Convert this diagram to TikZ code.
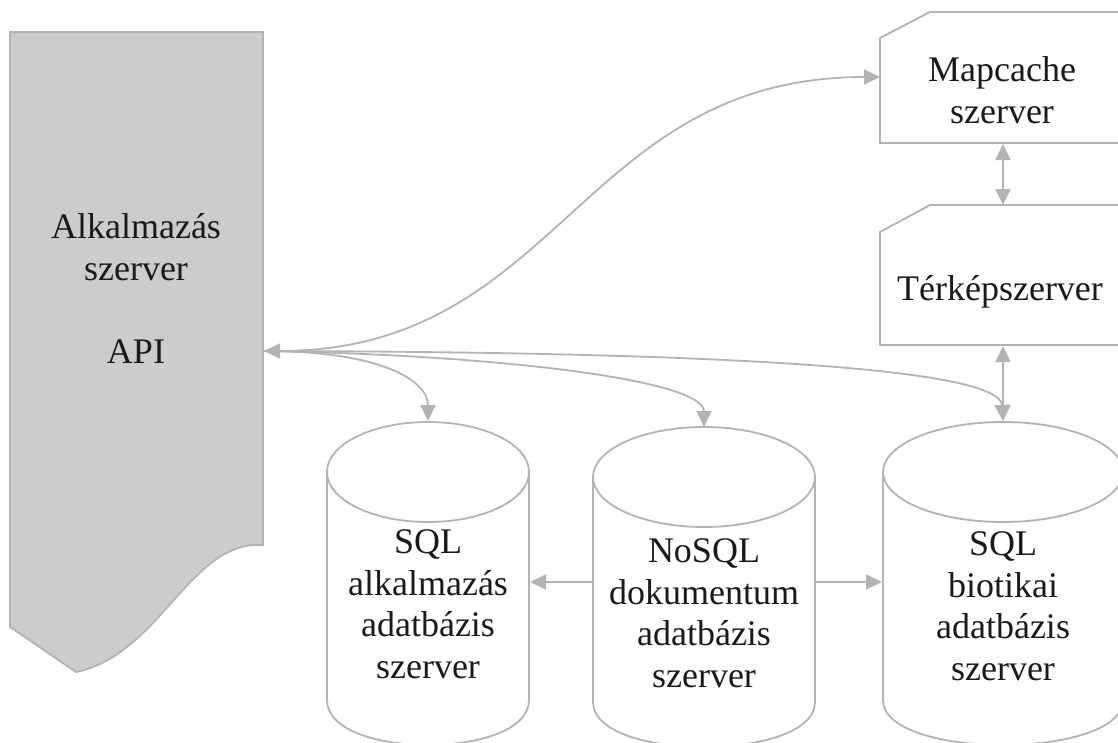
\documentclass[tikz,border=0pt]{standalone}
\usepackage{fontspec}
\setmainfont{Liberation Serif}
\usetikzlibrary{arrows.meta}
\definecolor{linegray}{HTML}{B3B3B3}
\definecolor{fillgray}{HTML}{CCCCCC}
\definecolor{txt}{HTML}{1A1A1A}
\tikzset{
  outline/.style={draw=linegray, line width=1.8pt, line join=miter},
  conn/.style={draw=linegray, line width=1.8pt, -{Triangle[length=16pt,width=15pt]}},
  bothconn/.style={draw=linegray, line width=1.8pt, {Triangle[length=16pt,width=15pt]}-{Triangle[length=16pt,width=15pt]}},
  lbl/.style={font=\fontsize{36}{41.5}\selectfont, text=txt, align=center, anchor=base, inner sep=0pt},
}
\begin{document}
\begin{tikzpicture}[x=1pt,y=-1pt]
\useasboundingbox (0,0) rectangle (1118,742);
\clip (0,0) rectangle (1118,742);
% application server (document shape)
\draw[outline, fill=fillgray] (10,32) -- (263,32) -- (263,545)
  .. controls (190,540) and (160,655) .. (76,672) -- (10,627) -- cycle;
% Mapcache box
\draw[outline] (880,38) -- (930,12) -- (1126,12) -- (1126,143) -- (880,143) -- cycle;
% Terkep box
\draw[outline] (880,232) -- (930,205) -- (1126,205) -- (1126,345) -- (880,345) -- cycle;
% cylinders
\draw[outline] (428,472) ellipse [x radius=101, y radius=50];
\draw[outline] (327,472) -- (327,700) .. controls (327,760) and (529,760) .. (529,700) -- (529,472);
\draw[outline] (704,477) ellipse [x radius=111, y radius=50];
\draw[outline] (593,477) -- (593,702) .. controls (593,762) and (815,762) .. (815,702) -- (815,477);
\draw[outline] (1003,472) ellipse [x radius=120, y radius=50];
\draw[outline] (883,472) -- (883,700) .. controls (883,760) and (1123,760) .. (1123,700) -- (1123,472);
% labels (anchor = baseline of last line)
\node[lbl] (app) at (136,363) {Alkalmazás\\szerver\\[41.5pt]API};
\node[lbl] (map) at (1002,123) {Mapcache\\szerver};
\node[lbl] (ter) at (1000,300) {Térképszerver};
\node[lbl] (c1) at (428,678) {SQL\\alkalmazás\\adatbázis\\szerver};
\node[lbl] (c2) at (704,687) {NoSQL\\dokumentum\\adatbázis\\szerver};
\node[lbl] (c3) at (1003,680) {SQL\\biotikai\\adatbázis\\szerver};
% connection points
\coordinate (api) at (264,351);
\coordinate (mapL) at (880,77);
\coordinate (mapB) at (1003,144);
\coordinate (terT) at (1003,205);
\coordinate (terB) at (1003,346);
\coordinate (c1top) at (428,421);
\coordinate (c2top) at (704,427);
\coordinate (c3top) at (1003,421);
\coordinate (c1R) at (530,582);
\coordinate (c2L) at (593,582);
\coordinate (c2R) at (815,582);
\coordinate (c3L) at (882,582);
% connectors
\draw[bothconn] (api) .. controls (560,351) and (580,77) .. (mapL);
\draw[conn] (api) .. controls (380,351) and (428,380) .. (c1top);
\draw[conn] (api) .. controls (500,355) and (704,380) .. (c2top);
\draw[conn] (api) .. controls (750,352) and (1000,370) .. (c3top);
\draw[bothconn] (mapB) -- (terT);
\draw[bothconn] (terB) -- (c3top);
\draw[conn] (c2L) -- (c1R);
\draw[conn] (c2R) -- (c3L);
\end{tikzpicture}
\end{document}
